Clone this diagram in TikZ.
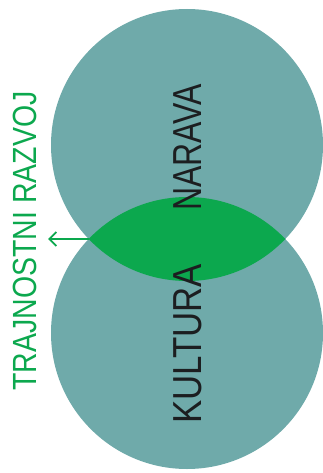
\documentclass[tikz,border=0pt]{standalone}
\usepackage{fontspec}
\newfontfamily\labelfont{Liberation Sans}
\usetikzlibrary{arrows.meta,intersections}
\definecolor{teal}{RGB}{111,170,170}
\definecolor{leaf}{RGB}{12,168,78}
\definecolor{ink}{RGB}{28,30,32}

\begin{document}
\begin{tikzpicture}[x=1pt,y=-1pt,
  disc/.style={circle,fill=teal,minimum size=272pt,inner sep=0pt},
  word/.style={rotate=90,inner sep=0pt,text=ink,font=\labelfont\fontsize{40.5}{40.5}\selectfont},
  >={Straight Barb[length=7pt,width=14pt]}]
\useasboundingbox (0,0) rectangle (323,473);
\node[disc,name path=up] (up) at (187,145) {};
\node[disc,name path=down] (down) at (187,333) {};
% overlap of the two discs
\begin{scope}
  \clip (187,145) circle[radius=136pt];
  \fill[leaf] (187,333) circle[radius=136pt];
\end{scope}
\path[name intersections={of=up and down,by={lensL,lensR}}];
\node[word] (nar) at (187.5,147.5) {\scalebox{0.79}[1]{NARAVA}};
\node[word] (kul) at (187.5,344) {\scalebox{0.86}[1]{KULTURA}};
\node[word,text=leaf,font=\labelfont\fontsize{33.5}{33.5}\selectfont] (raz) at (25,241)
  {\scalebox{0.85}[1]{TRAJNOSTNI RAZVOJ}};
\draw[->,leaf,line width=1.8pt,shorten >=11pt] (lensL) -- (lensL -| raz.south);
\end{tikzpicture}
\end{document}
